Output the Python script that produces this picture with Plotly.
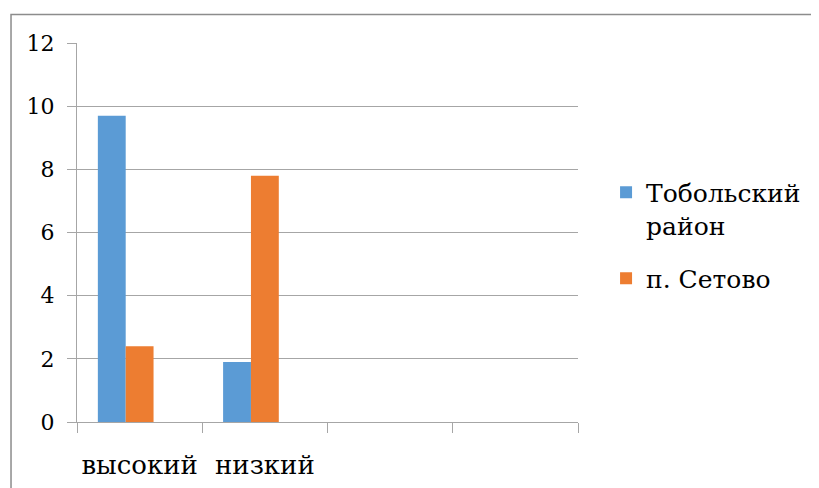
import plotly.graph_objects as go

categories = ["высокий", "низкий", " ", "  "]
series1_name = "Тобольский<br>район"
series1_values = [9.7, 1.9, None, None]
series2_name = "п. Сетово"
series2_values = [2.4, 7.8, None, None]
series3_values = [None, None, None, None]

FONT = "DejaVu Serif"

fig = go.Figure()
fig.add_trace(go.Bar(x=categories, y=series1_values, name=series1_name, legendgroup="a",
                     marker=dict(color="#5B9BD5", line=dict(width=0))))
fig.add_trace(go.Bar(x=categories, y=series2_values, name=series2_name, legendgroup="b",
                     marker=dict(color="#ED7D31", line=dict(width=0))))
fig.add_trace(go.Bar(x=categories, y=series3_values, name="", showlegend=False,
                     legendgroup="c", marker=dict(color="#A5A5A5", line=dict(width=0))))

fig.update_layout(
    width=811, height=480,
    margin=dict(l=69, r=241, t=35, b=66, autoexpand=False),
    paper_bgcolor="white", plot_bgcolor="white",
    barmode="group", bargap=0.333, bargroupgap=0,
    font=dict(family=FONT, size=22, color="black"),
    legend=dict(x=1.056, y=0.492, yanchor="middle", xanchor="left", valign="top",
                font=dict(family=FONT, size=25, color="black"),
                tracegroupgap=18, itemwidth=30),
    xaxis=dict(type="category", categoryorder="array", categoryarray=categories,
               range=[-0.5, 3.5], tickson="boundaries", ticks="outside", ticklen=10,
               tickcolor="#A6A6A6", tickwidth=1, showline=True, linecolor="#A6A6A6",
               linewidth=1, showgrid=False, tickfont=dict(family=FONT, size=26),
               tickangle=0, automargin=False, ticklabelstandoff=20),
    yaxis=dict(range=[0, 12], dtick=2, ticks="outside", ticklen=9, tickcolor="#A6A6A6",
               showline=True, linecolor="#A6A6A6", linewidth=1, showgrid=True,
               gridcolor="#A6A6A6", gridwidth=1, zeroline=False, automargin=False,
               tickfont=dict(family=FONT, size=22), ticklabelstandoff=8),
    shapes=[dict(type="rect", xref="paper", yref="paper",
                 x0=-0.1317, x1=1.48, y0=-0.3, y1=1.0752,
                 line=dict(color="#8C8C8C", width=1.5), fillcolor="rgba(0,0,0,0)",
                 layer="below")],
)

fig.write_html("out.html")
